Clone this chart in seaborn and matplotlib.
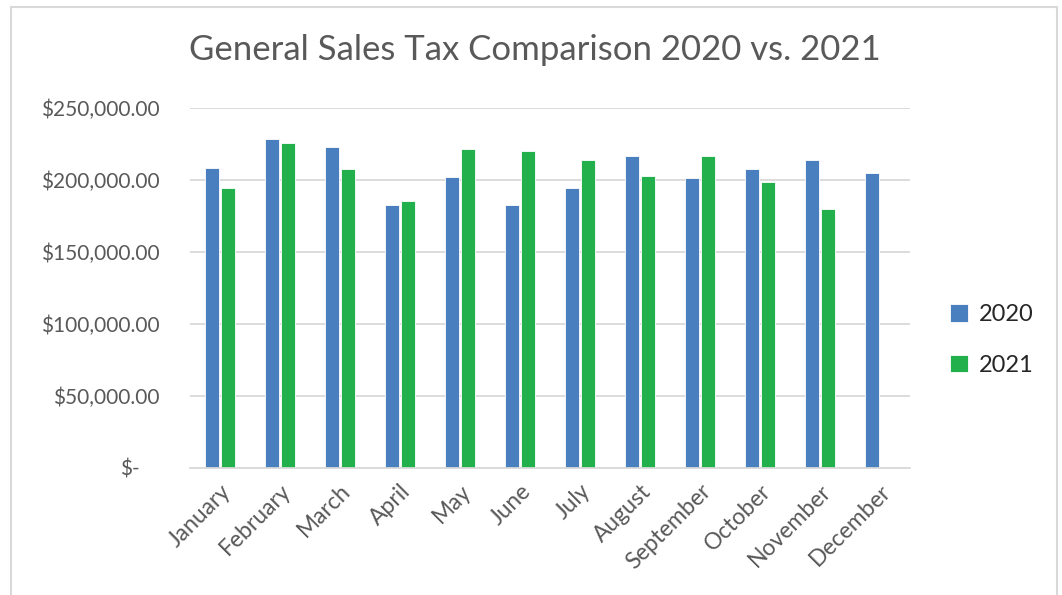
#!/usr/bin/env python3
import pandas as pd
import numpy as np
from matplotlib import pyplot as plt
from matplotlib.patches import Rectangle
import seaborn as sns

months = ['January', 'February', 'March', 'April', 'May', 'June', 'July',
          'August', 'September', 'October', 'November', 'December']
tax_2020 = [208600, 228700, 223200, 182800, 202100, 182800,
            194600, 216700, 201200, 207400, 213900, 204700]
tax_2021 = [194600, 226000, 207400, 185600, 221400, 220400,
            213900, 203000, 216700, 198400, 180000, np.nan]
years = ['2020', '2021']
yticks = [0, 50000, 100000, 150000, 200000, 250000]
ytick_labels = ['$-', '$50,000.00', '$100,000.00', '$150,000.00', '$200,000.00', '$250,000.00']

df = pd.DataFrame({
    'Month': months * 2,
    'Tax': tax_2020 + tax_2021,
    'Year': [years[0]] * 12 + [years[1]] * 12,
})

sns.set_style('white')
plt.rcParams['font.family'] = ['Lato', 'DejaVu Sans']

fig = plt.figure(figsize=(10.62, 5.95), dpi=100)
W, H = 1062, 595
ax = fig.add_axes([190 / W, (H - 468) / H, 720 / W, 360 / H])

sns.barplot(data=df, x='Month', y='Tax', hue='Year', order=months,
            hue_order=years, palette=['#4A7FBF', '#21B04B'], saturation=1,
            width=0.52, gap=0.12, edgecolor='white', linewidth=0.6, ax=ax)

ax.set_ylim(0, 250000)
ax.set_xlim(-0.5, 11.5)
ax.set_yticks(yticks)
ax.set_yticklabels(ytick_labels)
ax.yaxis.grid(True, color='#d9d9d9', linewidth=1.3)
ax.set_axisbelow(True)
for s in ['top', 'right', 'left']:
    ax.spines[s].set_visible(False)
ax.spines['bottom'].set_color('#d9d9d9')
ax.spines['bottom'].set_linewidth(1.3)
ax.tick_params(axis='y', length=0, pad=22, labelsize=15, labelcolor='#595959')
ax.tick_params(axis='x', length=0, pad=9, labelsize=16.5, labelcolor='#595959')
for lab in ax.get_xticklabels():
    lab.set_rotation(45)
    lab.set_ha('right')
    lab.set_rotation_mode('anchor')
# accounting style zero label sits further left
zero_lab = ax.get_yticklabels()[0]
zero_lab.set_x(-20 / 720)
ax.set_xlabel('')
ax.set_ylabel('')

ax.legend(loc='center left', bbox_to_anchor=(929 / W, 1 - 340 / H),
          bbox_transform=fig.transFigure, frameon=False, fontsize=17,
          handlelength=0.75, handleheight=0.75, handletextpad=0.45,
          labelspacing=1.25, labelcolor='#262626')

fig.text(535 / W, 1 - 50 / H, 'General Sales Tax Comparison 2020 vs. 2021',
         ha='center', va='center', fontsize=25, color='#595959')

fig.patches.append(Rectangle((11 / W, -0.1), 1046 / W, 1.1 - 7 / H,
                             transform=fig.transFigure, fill=False,
                             edgecolor='#d9d9d9', linewidth=1.5))

fig.savefig('out.png', dpi=100)
